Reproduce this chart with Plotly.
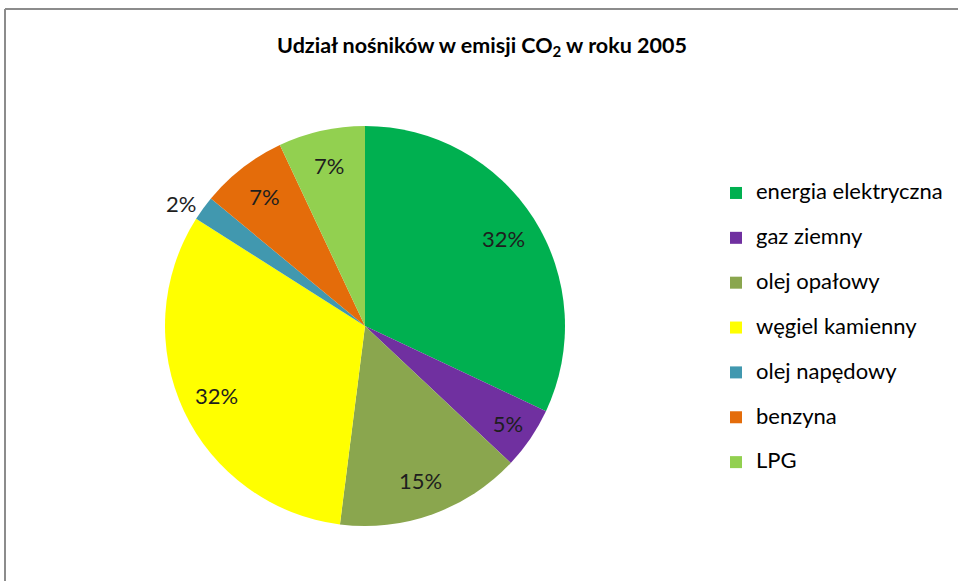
import plotly.graph_objects as go

labels = ["energia elektryczna", "gaz ziemny", "olej opałowy", "węgiel kamienny",
          "olej napędowy", "benzyna", "LPG"]
values = [32, 5, 15, 32, 2, 7, 7]
colors = ["#00B050", "#7030A0", "#8AA64E", "#FFFF00", "#4198AF", "#E46C0A", "#92D050"]
text_positions = ["inside", "inside", "inside", "inside", "outside", "inside", "inside"]

FONT = "Lato"
W, H = 958, 581
domain = dict(x=[165/W, 565/W], y=[1-526/H, 1-126/H])

legend_labels = ["<span style='font-size:22px'>" + l + "</span><br> " for l in labels]

# filled pie (no text)
fig = go.Figure(go.Pie(
    labels=legend_labels,
    values=values,
    sort=False,
    direction="clockwise",
    rotation=0,
    marker=dict(colors=colors, line=dict(width=0)),
    textinfo="none",
    domain=domain,
    hoverinfo="percent",
))
# transparent ring carrying the percentage labels at the outer part of the pie
fig.add_trace(go.Pie(
    labels=legend_labels,
    values=values,
    sort=False,
    direction="clockwise",
    rotation=0,
    hole=0.64,
    showlegend=False,
    marker=dict(colors=["rgba(0,0,0,0)"] * len(values), line=dict(width=0)),
    textinfo="percent",
    texttemplate="%{percent:.0%}",
    textposition=text_positions,
    insidetextorientation="horizontal",
    textfont=dict(family=FONT, size=22, color="#1E1E1E"),
    domain=domain,
    hoverinfo="skip",
))

fig.update_layout(
    width=W, height=H,
    margin=dict(l=0, r=0, t=0, b=0),
    paper_bgcolor="white",
    plot_bgcolor="white",
    font=dict(family=FONT, color="black"),
    title=dict(text="<b>Udział nośników w emisji CO<sub>2</sub> w roku 2005</b>",
               x=482/W, xanchor="center", y=1-45/H, yanchor="middle",
               font=dict(family=FONT, size=21.5, color="black")),
    legend=dict(x=716/W, xanchor="left", y=1-176/H, yanchor="top",
                font=dict(family=FONT, size=16.1, color="black"),
                valign="top", bgcolor="rgba(0,0,0,0)",
                itemclick=False),
    showlegend=True,
    shapes=[
        dict(type="line", xref="paper", yref="paper", x0=5/W, x1=1.02, y0=1-9/H, y1=1-9/H,
             line=dict(color="#8C8C8C", width=2)),
        dict(type="line", xref="paper", yref="paper", x0=5/W, x1=5/W, y0=1-9/H, y1=-0.02,
             line=dict(color="#8C8C8C", width=2)),
    ],
)

fig.write_html("out.html",
               config={"displayModeBar": False},
               post_script="document.body.style.margin='0';document.body.style.overflow='hidden';")
